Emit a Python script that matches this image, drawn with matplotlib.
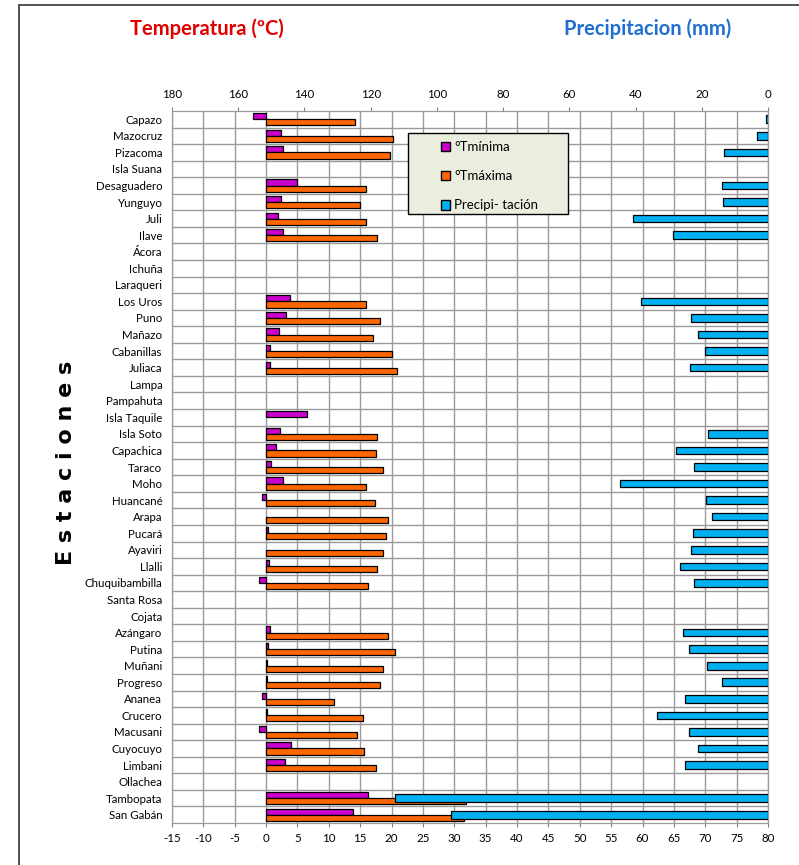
import numpy as np
import matplotlib
matplotlib.use("Agg")
import matplotlib.pyplot as plt
from matplotlib.patches import Patch, Rectangle

plt.rcParams['font.family'] = ['Lato', 'DejaVu Sans']
plt.rcParams['axes.unicode_minus'] = False

# ---------------- data ----------------
estaciones = ["Capazo", "Mazocruz", "Pizacoma", "Isla Suana", "Desaguadero", "Yunguyo",
              "Juli", "Ilave", "Ácora", "Ichuña", "Laraqueri", "Los Uros", "Puno",
              "Mañazo", "Cabanillas", "Juliaca", "Lampa", "Pampahuta", "Isla Taquile",
              "Isla Soto", "Capachica", "Taraco", "Moho", "Huancané", "Arapa", "Pucará",
              "Ayaviri", "Llalli", "Chuquibambilla", "Santa Rosa", "Cojata", "Azángaro",
              "Putina", "Muñani", "Progreso", "Ananea", "Crucero", "Macusani", "Cuyocuyo",
              "Limbani", "Ollachea", "Tambopata", "San Gabán"]
nan = np.nan
t_min = [-2.1, 2.4, 2.7, nan, 5.0, 2.4, 1.9, 2.7, nan, nan, nan, 3.8, 3.2,
         2.0, 0.6, 0.7, nan, nan, 6.5, 2.2, 1.6, 0.85, 2.7, -0.6, nan, 0.25,
         nan, 0.4, -1.1, nan, nan, 0.6, 0.3, 0.2, 0.2, -0.6, 0.2, -1.1, 4.0,
         3.0, nan, 16.3, 13.9]
t_max = [14.2, 20.2, 19.7, nan, 16.0, 15.0, 16.0, 17.6, nan, nan, nan, 16.0, 18.1,
         17.1, 20.0, 20.8, nan, nan, nan, 17.6, 17.5, 18.65, 15.9, 17.3, 19.4, 19.1,
         18.65, 17.6, 16.3, nan, nan, 19.4, 20.5, 18.65, 18.2, 10.8, 15.4, 14.5, 15.6,
         17.5, nan, 31.8, 31.6]
precip = [0.6, 3.3, 13.4, nan, 14.0, 13.6, 40.9, 28.7, nan, nan, nan, 38.5, 23.3,
          21.2, 19.0, 23.7, nan, nan, nan, 18.1, 27.9, 22.5, 44.8, 18.8, 17.0, 22.7,
          23.3, 26.6, 22.3, nan, nan, 25.8, 23.8, 18.5, 13.8, 25.0, 33.6, 24.0, 21.0,
          25.1, nan, 112.7, 95.6]

temp_ticks = np.arange(-15, 81, 5)
precip_ticks = np.arange(0, 181, 20)

c_min = "#CC00CC"
c_max = "#FF6600"
c_pp = "#00B0F0"

W, H = 799, 865

# ---------------- figure ----------------
fig = plt.figure(figsize=(W / 100, H / 100), dpi=100)
# outer chart border (cropped on the right and bottom)
fig.patches.append(Rectangle((19 / W, -0.01), 1.0, 1 - 5 / H + 0.01,
                             transform=fig.transFigure, fill=False,
                             edgecolor="#333333", linewidth=1.2))

ax = fig.add_axes([172 / W, 42 / H, 596 / W, 712 / H])
y = np.arange(len(estaciones))
h = 0.37

ax.barh(y - h / 2, t_min, height=h, color=c_min, edgecolor="black", linewidth=0.9)
ax.barh(y + h / 2, t_max, height=h, color=c_max, edgecolor="black", linewidth=0.9)
ax.set_xlim(-15, 80)
ax.set_xticks(temp_ticks)
ax.set_ylim(len(estaciones) - 0.5, -0.5)
ax.set_yticks(y)
ax.set_yticklabels(estaciones)
ax.set_yticks(y[:-1] + 0.5, minor=True)
ax.tick_params(axis='y', which='both', length=0, labelsize=8.3, pad=7)
ax.tick_params(axis='x', length=3, labelsize=8.3, pad=4, color="#808080")
ax.set_axisbelow(True)
ax.grid(axis='x', color="#9a9a9a", linewidth=1)
ax.grid(axis='y', which='minor', color="#9a9a9a", linewidth=1)
for s in ax.spines.values():
    s.set_color("#9a9a9a")

# precipitation on the secondary (top, reversed) axis
ax2 = ax.twiny()
ax2.barh(y, precip, height=0.46, color=c_pp, edgecolor="black", linewidth=0.9)
ax2.set_xlim(180, 0)
ax2.set_xticks(precip_ticks)
ax2.tick_params(axis='x', length=3, labelsize=8.3, pad=5, color="#808080")
for s in ax2.spines.values():
    s.set_color("#9a9a9a")

# legend box
box = Rectangle((408 / W, 1 - 214 / H), 160 / W, 81 / H, transform=fig.transFigure,
                facecolor="#EBEEDF", edgecolor="black", linewidth=1,
                zorder=4, clip_on=False)
ax2.add_patch(box)
handles = [Patch(facecolor=c_min, edgecolor="black"),
           Patch(facecolor=c_max, edgecolor="black"),
           Patch(facecolor=c_pp, edgecolor="black")]
leg = ax2.legend(handles, ["°Tmínima", "°Tmáxima", "Precipi- tación"],
                 loc="upper left", bbox_to_anchor=(441 / W, 1 - 141 / H),
                 bbox_transform=fig.transFigure,
                 frameon=False, fontsize=9.5, handlelength=0.65,
                 handleheight=0.75, handletextpad=0.35, labelspacing=1.3,
                 borderpad=0, borderaxespad=0)
leg.set_zorder(5)

fig.text(207 / W, 1 - 29 / H, "Temperatura (ºC)", color="#E00000",
         fontsize=14.5, fontweight="bold", ha="center", va="center")
fig.text(648 / W, 1 - 29 / H, "Precipitacion (mm)", color="#1F6FD0",
         fontsize=14.5, fontweight="bold", ha="center", va="center")
fig.text(66 / W, 1 - 463 / H, "E s t a c i o n e s", rotation=90,
         fontsize=16, fontweight="heavy", family="DejaVu Sans",
         ha="center", va="center")

fig.savefig("out.png", dpi=100)
